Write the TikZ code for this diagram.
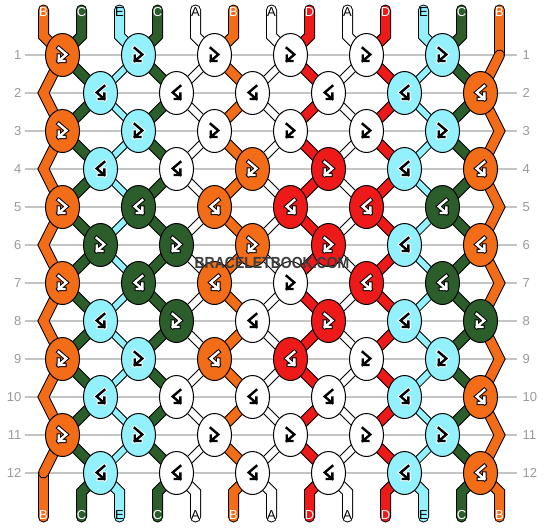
\documentclass[tikz,border=0pt]{standalone}
\usepackage{fontspec}
\setmainfont{Liberation Sans}
\usetikzlibrary{shapes.geometric}
\pgfdeclarelayer{bg}
\pgfsetlayers{bg,main}
\definecolor{cB}{HTML}{F36C17}
\definecolor{cC}{HTML}{2C5E2C}
\definecolor{cE}{HTML}{93F1FE}
\definecolor{cA}{HTML}{FFFFFF}
\definecolor{cD}{HTML}{EE1A1A}
\definecolor{rowgray}{HTML}{C4C4C4}
\definecolor{numgray}{HTML}{9A9A9A}
\definecolor{wmgray}{HTML}{3C3C3C}
% string colours by position
\colorlet{s1}{cB}\colorlet{s2}{cC}\colorlet{s3}{cE}\colorlet{s4}{cC}\colorlet{s5}{cA}
\colorlet{s6}{cB}\colorlet{s7}{cA}\colorlet{s8}{cD}\colorlet{s9}{cA}\colorlet{s10}{cD}
\colorlet{s11}{cE}\colorlet{s12}{cC}\colorlet{s13}{cB}
% glyph / label foreground
\colorlet{g1}{white}\colorlet{g2}{white}\colorlet{g3}{black}\colorlet{g4}{white}\colorlet{g5}{black}
\colorlet{g6}{white}\colorlet{g7}{black}\colorlet{g8}{white}\colorlet{g9}{black}\colorlet{g10}{white}
\colorlet{g11}{black}\colorlet{g12}{white}\colorlet{g13}{white}
% glyph outline
\colorlet{o1}{black}\colorlet{o2}{black}\colorlet{o3}{white}\colorlet{o4}{black}\colorlet{o5}{white}
\colorlet{o6}{black}\colorlet{o7}{white}\colorlet{o8}{black}\colorlet{o9}{white}\colorlet{o10}{black}
\colorlet{o11}{white}\colorlet{o12}{black}\colorlet{o13}{black}
\tikzset{
 knot/.style={ellipse, draw=black, line width=1pt, minimum width=34pt, minimum height=43pt, inner sep=0pt},
 glyphout/.style={line width=4.4pt, line join=miter, line cap=rect},
 glyphin/.style={line width=2.4pt, line join=miter, line cap=rect},
 strout/.style={line width=11pt, line join=miter, line cap=round, draw=black},
 strin/.style={line width=9pt, line join=miter, line cap=round},
 rowline/.style={draw=rowgray, line width=1.2pt},
 rownum/.style={text=numgray, font=\fontsize{13pt}{13pt}\selectfont, inner sep=0pt},
 endlabel/.style={font=\fontsize{13pt}{13pt}\selectfont, inner sep=0pt},
 watermark/.style={font=\fontsize{14pt}{14pt}\selectfont\bfseries, inner sep=0pt}
}
\def\glyphpath{(-3.8,-7) -- (3.8,-0.5) -- (-3.8,6) (-3.8,0.5) -- (-3.8,6) -- (1.8,6)}
\begin{document}
\begin{tikzpicture}[x=1pt,y=-1pt]
\useasboundingbox (0,0) rectangle (544,528);
% knots
\foreach \r/\types in {1/{L,L,L,L,L,L},2/{R,R,R,R,R,R},3/{L,L,L,L,L,L},4/{R,R,L,L,R,R},
  5/{L,R,R,R,R,R},6/{L,L,L,L,R,R},7/{L,R,R,L,R,R},8/{R,L,R,L,R,L},9/{L,L,R,R,L,L},
  10/{R,R,R,R,R,R},11/{L,L,L,L,L,L},12/{R,R,R,R,R,R}}{
  \pgfmathtruncatemacro\odd{mod(\r,2)}
  \pgfmathsetmacro\ky{55+38*(\r-1)}
  \foreach \t [count=\k] in \types {
    \ifnum\odd=1
      \pgfmathsetmacro\kx{62.5+76*(\k-1)}\pgfmathtruncatemacro\pl{2*\k-1}
    \else
      \pgfmathsetmacro\kx{100.5+76*(\k-1)}\pgfmathtruncatemacro\pl{2*\k}
    \fi
    \pgfmathtruncatemacro\pr{\pl+1}
    \if\t R\relax
      \let\ps\pr\def\mir{-1}
    \else
      \let\ps\pl\def\mir{1}
    \fi
    \node[knot, fill=s\ps] (k-\r-\k) at (\kx,\ky) {};
    \coordinate (v-\pl-\r) at (k-\r-\k.center);
    \coordinate (v-\pr-\r) at (k-\r-\k.center);
    \begin{scope}[shift={(k-\r-\k.center)}, xscale=\mir]
      \draw[draw=o\ps, glyphout] \glyphpath;
      \draw[draw=g\ps, glyphin] \glyphpath;
    \end{scope}
  }
}
% free edge points
\foreach \r in {2,4,...,12}{ \coordinate (v-1-\r) at (43.5,{55+38*(\r-1)}); }
\foreach \r in {1,3,...,11}{ \coordinate (v-13-\r) at (499.5,{55+38*(\r-1)}); }
\node[watermark, text=wmgray] (wm) at (272,263) {\scalebox{1}[1.15]{BRACELETBOOK.COM}};
\begin{pgfonlayer}{bg}
  \fill[white] (0,0) rectangle (544,528);
  \foreach \r in {1,...,12}{
    \pgfmathsetmacro\ry{55+38*(\r-1)}
    \coordinate (gl-\r) at (25,\ry);
    \coordinate (gr-\r) at (517,\ry);
    \draw[rowline] (gl-\r) -- (gr-\r);
    \node[rownum, anchor=east] (nl-\r) at (21.5,\ry) {\r};
    \node[rownum, anchor=west] (nr-\r) at (522.5,\ry) {\r};
  }
  \foreach \p/\l/\w in {1/B/9,2/C/9,3/E/6,4/C/9,5/A/6.5,6/B/9,7/A/6.5,8/D/9,9/A/6.5,10/D/9,11/E/6,12/C/9,13/B/9}{
    \pgfmathsetmacro\X{5.5+38*\p}
    \pgfmathsetmacro\wo{\w+2}
    \coordinate (t-\p) at (\X,10);
    \coordinate (tb-\p) at (\X,36);
    \coordinate (bb-\p) at (\X,492);
    \coordinate (b-\p) at (\X,517);
    % ends (full width)
    \draw[strout] (t-\p) -- (tb-\p) -- (v-\p-1);
    \draw[strout] (v-\p-12) -- (bb-\p) -- (b-\p);
    \draw[strin, draw=s\p] (t-\p) -- (tb-\p) -- (v-\p-1);
    \draw[strin, draw=s\p] (v-\p-12) -- (bb-\p) -- (b-\p);
    % between knots
    \draw[strout, line width=\wo pt] (v-\p-1) foreach \r in {2,...,12}{ -- (v-\p-\r)};
    \draw[strin, draw=s\p, line width=\w pt] (v-\p-1) foreach \r in {2,...,12}{ -- (v-\p-\r)};
    \node[endlabel, text=g\p] (lt-\p) at (\X,12.5) {\l};
    \node[endlabel, text=g\p] (lb-\p) at (\X,515.5) {\l};
  }
\end{pgfonlayer}
\end{tikzpicture}
\end{document}
